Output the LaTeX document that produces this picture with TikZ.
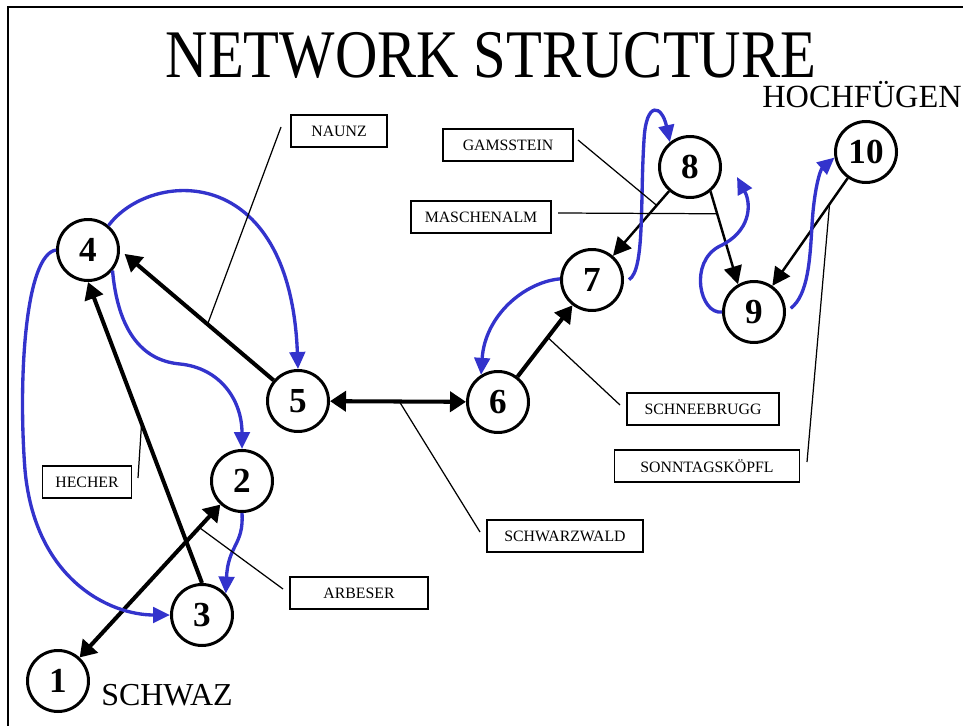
\documentclass[tikz,border=0pt]{standalone}
\usepackage{fontspec}
\setmainfont{Liberation Serif}
\usepackage{graphicx}
\usepackage{tikz}
\usetikzlibrary{arrows.meta,positioning}
\definecolor{pisteblue}{RGB}{51,51,204}

\begin{document}
\begin{tikzpicture}
		[x=0.2mm,y=-0.2mm,
		main node/.style={shape=circle,draw,line width=1.7pt,minimum size=12.2mm,inner sep=0pt,font=\fontsize{20}{20}\selectfont\bfseries},
		name box/.style={draw,line width=0.85pt,minimum height=6.4mm,inner sep=0pt,font=\fontsize{9}{9}\selectfont},
		lift/.style={line width=2.3pt,-{Triangle[length=3.4mm,width=3.8mm]}},
		both lift/.style={lift,{Triangle[length=3.2mm,width=4mm]}-{Triangle[length=3.2mm,width=4mm]}},
		thin lift/.style={line width=1.4pt,-{Triangle[length=3.6mm,width=3.6mm]}},
		piste/.style={pisteblue,line width=1.9pt,-{Triangle[length=3.4mm,width=3.1mm]}},
		leader/.style={line width=0.7pt}
		]
		
		\useasboundingbox (0,0) rectangle (963,726);
		\draw [line width=1.1pt] (8,726) -- (8,7) -- (963,7);
		
		\node [anchor=base,font=\fontsize{33.4}{36}\selectfont] (title) at (491,78) {\scalebox{1}[1.16]{NETWORK STRUCTURE}};
		\node [anchor=base,font=\fontsize{18.4}{20}\selectfont] (hochfuegen) at (862,108) {HOCHFÜGEN};
		\node [anchor=base,font=\fontsize{18.2}{20}\selectfont] (schwaz) at (167,705) {SCHWAZ};
		
		\node [main node] (1) at (58,681) {1};
		\node [main node] (2) at (242,481) {2};
		\node [main node] (3) at (202,615) {3};
		\node [main node] (4) at (88,250) {4};
		\node [main node] (5) at (298,401) {5};
		\node [main node] (6) at (498,402) {6};
		\node [main node] (7) at (592,280) {7};
		\node [main node] (8) at (690,167) {8};
		\node [main node] (9) at (754,312) {9};
		\node [main node] (10) at (866,152) {10};
		
		\node [name box,minimum width=1.92cm] (naunz) at (339,131) {NAUNZ};
		\node [name box,minimum width=2.6cm] (gamsstein) at (508,145) {GAMSSTEIN};
		\node [name box,minimum width=2.8cm] (maschenalm) at (481,217) {MASCHENALM};
		\node [name box,minimum width=3.04cm] (schneebrugg) at (703,409) {SCHNEEBRUGG};
		\node [name box,minimum width=3.7cm] (sonntag) at (707,466) {SONNTAGSKÖPFL};
		\node [name box,minimum width=3.12cm] (schwarzwald) at (565,536) {SCHWARZWALD};
		\node [name box,minimum width=1.78cm] (hecher) at (87,482) {HECHER};
		\node [name box,minimum width=2.76cm] (arbeser) at (359,593) {ARBESER};
		
		\coordinate (naunz end) at (281,127);
		\coordinate (gamsstein end) at (578,140);
		\coordinate (maschenalm end) at (558,213);
		\coordinate (schneebrugg end) at (620,405);
		\coordinate (sonntag end) at (807,462);
		\coordinate (schwarzwald end) at (480,532);
		\coordinate (hecher end) at (138,478);
		\coordinate (arbeser end) at (283,589);
		\coordinate (tip98) at (737,177);
		
		\path[lift]
		(5) edge [shorten >=1.2mm] node [coordinate,pos=0.43] (naunz pt) {} (4.east)
		(3.north) edge node [coordinate,pos=0.53] (hecher pt) {} (4.south)
		(1) edge [both lift] node [coordinate,pos=0.85] (arbeser pt) {} (2)
		(5) edge [both lift] node [coordinate,pos=0.51] (schwarzwald pt) {} (6)
		(6) edge node [coordinate,pos=0.55] (schneebrugg pt) {} (7)
		;
		
		\path[thin lift]
		(8) edge node [coordinate,pos=0.22] (gamsstein pt) {} (7)
		(8.-50) edge node [coordinate,pos=0.24] (maschenalm pt) {} (9.120)
		(10) edge node [coordinate,pos=0.24] (sonntag pt) {} (9)
		;
		
		% blue runs
		\draw [piste] (4.50) .. controls (150,170) and (290,160) .. (5.north);
		\draw [piste] (4.-40) .. controls (117,320) and (135,360) .. (180,364) .. controls (220,368) and (242,400) .. (2.north);
		\draw [piste] (4.west) .. controls (25,255) and (18,380) .. (25,470) .. controls (35,580) and (110,615) .. (3.west);
		\draw [piste] (2.south) .. controls (244,545) and (228,545) .. (3.42);
		\draw [piste] (7.178) .. controls (525,282) and (485,315) .. (6.122);
		\draw [piste,shorten <=1.2mm] (7.-5) .. controls (645,270) and (640,200) .. (644,140) .. controls (646,100) and (662,105) .. (8.129);
		\draw [piste] (9.180) .. controls (700,315) and (688,262) .. (720,246) .. controls (750,232) and (752,205) .. (tip98);
		\draw [piste,shorten <=1.2mm] (9.0) .. controls (808,295) and (810,260) .. (812,225) .. controls (814,190) and (820,170) .. (10.190);
		
		\draw [leader] (naunz end) -- (naunz pt);
		\draw [leader] (gamsstein end) -- (gamsstein pt);
		\draw [leader] (maschenalm end) -- (maschenalm pt);
		\draw [leader] (schneebrugg end) -- (schneebrugg pt);
		\draw [leader] (sonntag end) -- (sonntag pt);
		\draw [leader] (schwarzwald end) -- (schwarzwald pt);
		\draw [leader] (hecher end) -- (hecher pt);
		\draw [leader] (arbeser end) -- (arbeser pt);
		
\end{tikzpicture}
\end{document}
